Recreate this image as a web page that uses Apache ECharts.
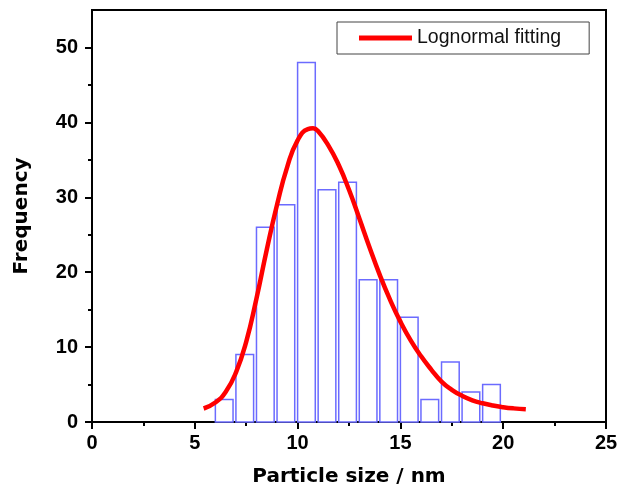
<!DOCTYPE html>
<html>
<head>
<meta charset="utf-8">
<script src="https://cdn.jsdelivr.net/npm/echarts@6/dist/echarts.min.js"></script>
<style>
html,body{margin:0;padding:0;background:#fff;}
#chart{width:624px;height:487px;}
</style>
</head>
<body>
<div id="chart"></div>
<script>
// Histogram bins (left edge, nm) and counts
var binStart = [6, 7, 8, 9, 10, 11, 12, 13, 14, 15, 16, 17, 18, 19];
var counts   = [3, 9, 26, 29, 48, 31, 32, 19, 19, 14, 3, 8, 4, 5];

// Lognormal fitting curve
var fitX = [5.43, 6.0, 6.5, 7.0, 7.5, 8.0, 8.5, 9.0, 9.5, 10.0, 10.5, 10.75, 11.0, 11.5, 12.0, 12.5, 13.0, 13.5, 14.0, 14.5, 15.0, 15.5, 16.0, 16.5, 17.0, 17.5, 18.0, 18.5, 19.0, 19.5, 20.0, 20.5, 21.1];
var fitY = [1.8, 2.6, 4.0, 6.6, 10.7, 16.5, 23.0, 29.0, 34.1, 37.6, 39.1, 39.2, 38.8, 36.9, 34.3, 31.0, 27.2, 23.3, 19.6, 16.3, 13.4, 10.9, 8.8, 7.0, 5.4, 4.3, 3.5, 2.9, 2.5, 2.2, 1.98, 1.82, 1.69];

var xTicks = [0, 5, 10, 15, 20, 25];
var yTickLabels = [0, 10, 20, 30, 40, 50];
var yMinorTicks = [5, 15, 25, 35, 45];

var BIN_W = 0.86;
var tickFont = {fontFamily: 'Liberation Sans, Arial, sans-serif', fontWeight: 'bold', fontSize: 20, color: '#000'};
var nameFont = {fontFamily: 'DejaVu Sans, sans-serif', fontWeight: 'bold', fontSize: 20, color: '#000'};

var chart = echarts.init(document.getElementById('chart'), null, {renderer: 'canvas'});
chart.setOption({
  animation: false,
  backgroundColor: '#fff',
  grid: {left: 92, right: 18, top: 10, bottom: 65, containLabel: false, outerBoundsMode: 'none',
         show: true, borderColor: '#000', borderWidth: 2, backgroundColor: '#fff'},
  legend: {
    data: ['Lognormal fitting'],
    left: 337, top: 22,
    orient: 'horizontal',
    itemWidth: 53, itemHeight: 5, itemGap: 5,
    icon: 'rect',
    padding: [6, 28, 6, 22],
    borderColor: '#444', borderWidth: 1,
    textStyle: {fontFamily: 'Liberation Sans, Arial, sans-serif', fontSize: 19.5, color: '#111'}
  },
  xAxis: {
    type: 'value', min: 0, max: 25, interval: 5,
    name: 'Particle size / nm', nameLocation: 'middle', nameGap: 45,
    nameTextStyle: nameFont,
    axisLine: {show: true, lineStyle: {color: '#000', width: 2}},
    axisTick: {show: true, inside: false, length: 7, lineStyle: {color: '#000', width: 2}},
    minorTick: {show: true, splitNumber: 2, length: 4, lineStyle: {color: '#000', width: 2}},
    axisLabel: Object.assign({margin: 11}, tickFont),
    splitLine: {show: false}
  },
  yAxis: [{
    type: 'value', min: 0, max: 55,
    name: 'Frequency', nameLocation: 'middle', nameGap: 60,
    nameTextStyle: nameFont,
    axisLine: {show: true, lineStyle: {color: '#000', width: 2}},
    axisTick: {show: true, inside: false, length: 7, customValues: yTickLabels, lineStyle: {color: '#000', width: 2}},
    axisLabel: Object.assign({margin: 14, customValues: yTickLabels}, tickFont),
    splitLine: {show: false}
  }, {
    type: 'value', min: 0, max: 55, position: 'left',
    axisLine: {show: false},
    axisTick: {show: true, inside: false, length: 4, customValues: yMinorTicks, lineStyle: {color: '#000', width: 2}},
    axisLabel: {show: false},
    splitLine: {show: false}
  }],
  series: [{
    type: 'custom',
    name: 'Histogram',
    data: binStart.map(function (b, i) { return [b, counts[i]]; }),
    renderItem: function (params, api) {
      var x0 = api.value(0), h = api.value(1);
      var p0 = api.coord([x0, h]);
      var p1 = api.coord([x0 + BIN_W, 0]);
      return {
        type: 'rect',
        shape: {x: p0[0], y: p0[1], width: p1[0] - p0[0], height: p1[1] - p0[1]},
        style: {fill: '#fff', stroke: '#6b6bff', lineWidth: 1.5}
      };
    },
    z: 2
  }, {
    type: 'line',
    name: 'Lognormal fitting',
    data: fitX.map(function (x, i) { return [x, fitY[i]]; }),
    smooth: true,
    showSymbol: false,
    symbol: 'none',
    itemStyle: {color: '#ff0000'},
    lineStyle: {color: '#ff0000', width: 4.5},
    z: 3
  }]
});
</script>
</body>
</html>
